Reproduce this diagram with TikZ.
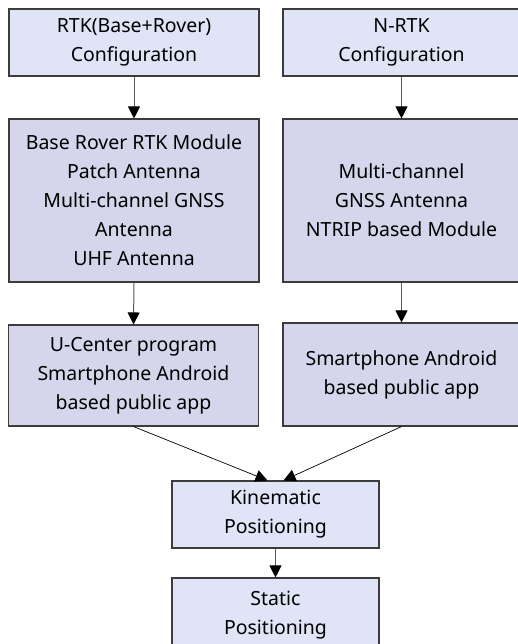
\documentclass[tikz,border=0pt]{standalone}
\usepackage{fontspec}
\setmainfont{Noto Sans}
\usetikzlibrary{arrows.meta}
\definecolor{lightbox}{HTML}{DFE5F6}
\definecolor{midbox}{HTML}{D5D5EB}
\definecolor{edgegray}{HTML}{3C3C3C}
\tikzset{
  flowbox/.style={draw=edgegray, line width=1.1pt, align=center, inner sep=0pt,
    font=\fontsize{19.5}{29}\selectfont,
    % a tall strut on the first line sets the text block a little low
    execute at begin node={\rule{0pt}{27pt}}},
  pale/.style={flowbox, fill=lightbox},
  deep/.style={flowbox, fill=midbox},
  link/.style={-{Triangle[width=12pt,length=12pt,color=black]}, line width=1pt, draw=black!65},
  slant/.style={link, draw=black, line width=0.7pt},
}
\begin{document}
\begin{tikzpicture}[x=1pt, y=-1pt]
  \useasboundingbox (0,0) rectangle (518,644);
  \begin{scope}
    \clip (0,0) rectangle (518,644);
    % first row: configurations
    \node[pale, minimum width=250pt, minimum height=67pt] (rtk) at (134,42.5)
      {RTK(Base+Rover)\\Configuration};
    \node[pale, minimum width=237pt, minimum height=67pt] (nrtk) at (401.5,42.5)
      {N-RTK\\Configuration};
    % second row: hardware
    \node[deep, minimum width=250pt, minimum height=163pt] (hwl) at (134,200.5)
      {Base Rover RTK Module\\Patch Antenna\\Multi-channel GNSS\\Antenna\\UHF Antenna};
    \node[deep, minimum width=237pt, minimum height=163pt] (hwr) at (401.5,200.5)
      {Multi-channel\\GNSS Antenna\\NTRIP based Module};
    % third row: software
    \node[deep, minimum width=250pt, minimum height=101pt] (swl) at (133.5,375.5)
      {U-Center program\\Smartphone Android\\based public app};
    \node[deep, minimum width=237pt, minimum height=103pt] (swr) at (401.5,374.5)
      {Smartphone Android\\based public app};
    % positioning modes
    \node[pale, minimum width=207pt, minimum height=67pt] (kin) at (275.5,514.5)
      {Kinematic\\Positioning};
    \node[pale, minimum width=207pt, minimum height=74pt] (sta) at (275.5,615)
      {Static\\Positioning};
  \end{scope}
  \coordinate (kinl) at ([xshift=-8pt]kin.north);
  \coordinate (kinr) at ([xshift=8pt]kin.north);
  \draw[link] (rtk.south) -- (hwl.north);
  \draw[link] (nrtk.south) -- (hwr.north);
  \draw[link] (hwl.south) -- (swl.north);
  \draw[link] (hwr.south) -- (swr.north);
  \draw[slant] (swl.south) -- (kinl);
  \draw[slant] (swr.south) -- (kinr);
  \draw[link] (kin.south) -- (sta.north);
\end{tikzpicture}
\end{document}
